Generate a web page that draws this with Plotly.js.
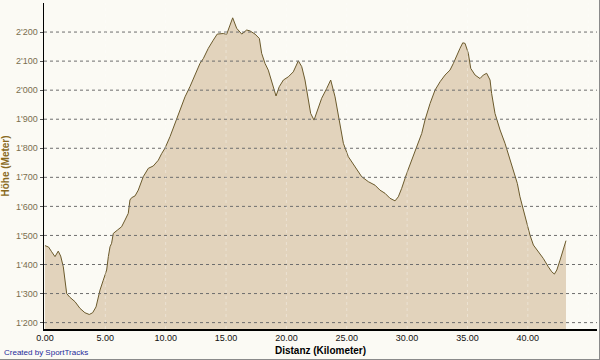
<!DOCTYPE html>
<html>
<head>
<meta charset="utf-8">
<script src="https://cdn.plot.ly/plotly-3.0.1.min.js"></script>
<style>
  html, body { margin: 0; padding: 0; background: #fbfaf4; }
  #wrap { width: 599px; height: 359px; border-right: 1px solid #8a8a8a; border-bottom: 1px solid #8a8a8a; }
  #chart { width: 599px; height: 359px; }
</style>
</head>
<body>
<div id="wrap"><div id="chart"></div></div>
<script>
// Distance along the route (km)
const distKm = [0.0, 0.3, 0.55, 0.83, 1.1, 1.3, 1.52, 1.66, 1.8, 2.07, 2.49, 2.9, 3.31, 3.67, 3.95, 4.23, 4.56, 4.83, 5.11, 5.25, 5.39, 5.52, 5.66, 5.99, 6.35, 6.63, 6.9, 7.04, 7.18, 7.46, 7.73, 8.14, 8.56, 8.97, 9.39, 9.67, 9.94, 10.36, 10.77, 11.18, 11.6, 12.01, 12.43, 12.84, 13.12, 13.53, 13.94, 14.27, 14.77, 15.05, 15.33, 15.55, 15.88, 16.3, 16.71, 16.98, 17.4, 17.76, 17.95, 18.23, 18.5, 18.78, 19.14, 19.41, 19.75, 20.16, 20.57, 20.99, 21.27, 21.54, 21.76, 22.01, 22.29, 22.56, 22.92, 23.34, 23.67, 24.03, 24.38, 24.72, 25.13, 25.68, 26.24, 26.79, 27.34, 27.75, 28.17, 28.58, 29.0, 29.27, 29.55, 29.97, 30.38, 30.8, 31.21, 31.48, 31.9, 32.31, 32.73, 33.14, 33.55, 33.83, 34.11, 34.38, 34.61, 34.8, 35.07, 35.27, 35.63, 36.04, 36.31, 36.59, 36.87, 37.0, 37.28, 37.7, 38.11, 38.53, 38.8, 39.13, 39.35, 39.77, 40.18, 40.46, 40.87, 41.28, 41.7, 41.98, 42.2, 42.4, 42.67, 42.94, 43.16];
// Elevation (m)
const elevM = [1465, 1460, 1444, 1427, 1446, 1429, 1392, 1346, 1300, 1287, 1272, 1249, 1234, 1228, 1234, 1254, 1312, 1346, 1381, 1427, 1461, 1473, 1507, 1518, 1530, 1553, 1576, 1622, 1630, 1636, 1656, 1702, 1731, 1739, 1759, 1782, 1800, 1840, 1886, 1931, 1977, 2012, 2052, 2092, 2109, 2144, 2172, 2193, 2195, 2192, 2224, 2249, 2213, 2193, 2207, 2204, 2193, 2178, 2127, 2092, 2069, 2029, 1980, 2012, 2035, 2046, 2063, 2101, 2081, 2035, 1977, 1920, 1897, 1931, 1972, 2006, 2035, 1977, 1890, 1817, 1771, 1736, 1702, 1685, 1673, 1656, 1645, 1628, 1619, 1633, 1662, 1714, 1759, 1805, 1851, 1897, 1954, 2000, 2029, 2052, 2069, 2092, 2121, 2144, 2163, 2161, 2127, 2075, 2052, 2040, 2052, 2058, 2035, 1989, 1920, 1863, 1817, 1759, 1725, 1679, 1633, 1564, 1501, 1467, 1444, 1421, 1392, 1375, 1367, 1381, 1415, 1450, 1482];

const yTickVals = [1200, 1300, 1400, 1500, 1600, 1700, 1800, 1900, 2000, 2100, 2200];
const yTickText = ["1'200", "1'300", "1'400", "1'500", "1'600", "1'700", "1'800", "1'900", "2'000", "2'100", "2'200"];
const xTickVals = [0, 5, 10, 15, 20, 25, 30, 35, 40, 45];
const xTickText = ["0.00", "5.00", "10.00", "15.00", "20.00", "25.00", "30.00", "35.00", "40.00", "45.00"];

const shapes = [];
yTickVals.forEach(v => shapes.push({
  type: 'line', xref: 'paper', x0: 0, x1: 1, yref: 'y', y0: v, y1: v,
  line: { color: '#6e6e6e', width: 1, dash: 'dot' }, layer: 'above'
}));
xTickVals.slice(1).forEach(v => shapes.push({
  type: 'line', xref: 'x', x0: v, x1: v, yref: 'paper', y0: 0, y1: 1,
  line: { color: 'rgba(255,255,255,0.35)', width: 1, dash: 'dot' }, layer: 'above'
}));

const trace = {
  x: distKm, y: elevM, type: 'scatter', mode: 'lines',
  fill: 'tozeroy', fillcolor: '#e2d3bc',
  line: { color: '#6b5a2c', width: 1 },
  hoverinfo: 'skip'
};

const layout = {
  width: 599, height: 359,
  margin: { l: 44, r: 2, t: 3, b: 30 },
  paper_bgcolor: '#fbfaf4', plot_bgcolor: '#fbfaf4',
  showlegend: false,
  font: { family: 'Liberation Sans, Arial, sans-serif', size: 9, color: '#000' },
  xaxis: {
    range: [-0.08, 45.73], tickvals: xTickVals, ticktext: xTickText,
    showgrid: false, zeroline: false, showline: true, linecolor: '#000', linewidth: 1.5,
    ticks: '', tickfont: { size: 9, color: '#111' },
    title: { text: 'Distanz (Kilometer)', font: { size: 10, color: '#000', weight: 'bold' }, standoff: 4 }
  },
  yaxis: {
    range: [1178, 2300], tickvals: yTickVals, ticktext: yTickText,
    showgrid: false, zeroline: false, showline: true, linecolor: '#000', linewidth: 1.5,
    ticks: 'outside', ticklen: 3, tickcolor: '#555', tickfont: { size: 9, color: '#7a6e4e' },
    title: { text: 'Höhe (Meter)', font: { size: 10, color: '#8a6a1e', weight: 'bold' }, standoff: 6 }
  },
  shapes: shapes,
  annotations: [{
    text: 'Created by SportTracks', xref: 'paper', yref: 'paper', x: 0, y: 0,
    xanchor: 'left', yanchor: 'top', xshift: -42, yshift: -17, showarrow: false,
    font: { size: 8, color: '#1e2a9a' }
  }]
};

Plotly.newPlot('chart', [trace], layout, { displayModeBar: false, staticPlot: true });
</script>
</body>
</html>
